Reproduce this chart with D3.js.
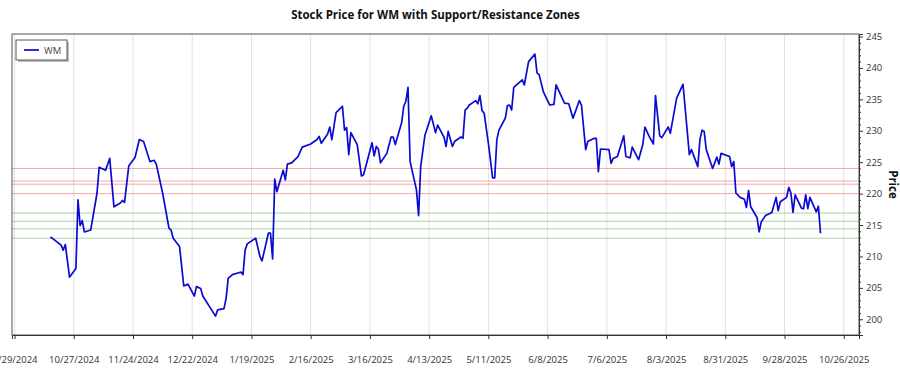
<!DOCTYPE html>
<html>
<head>
<meta charset="utf-8">
<script src="https://cdn.jsdelivr.net/npm/d3@7"></script>
<style>
  body { margin: 0; background: #fff; }
  text { font-family: "Open Sans", "Noto Sans", sans-serif; }
</style>
</head>
<body>
<div id="chart"></div>
<script>
const ticker = "WM";

const dates = [
  "2024-10-16","2024-10-18","2024-10-21","2024-10-22","2024-10-23","2024-10-25","2024-10-28","2024-10-29","2024-10-30","2024-10-31",
  "2024-11-01","2024-11-04","2024-11-07","2024-11-08","2024-11-11","2024-11-13","2024-11-15","2024-11-18","2024-11-19","2024-11-20",
  "2024-11-22","2024-11-25","2024-11-27","2024-11-29","2024-12-02","2024-12-04","2024-12-05","2024-12-08","2024-12-11","2024-12-12",
  "2024-12-13","2024-12-16","2024-12-18","2024-12-20","2024-12-23","2024-12-24","2024-12-26","2024-12-27","2025-01-02","2025-01-03",
  "2025-01-06","2025-01-07","2025-01-08","2025-01-10","2025-01-13","2025-01-14","2025-01-15","2025-01-16","2025-01-17","2025-01-21",
  "2025-01-23","2025-01-24","2025-01-27","2025-01-28","2025-01-29","2025-01-30","2025-01-31","2025-02-03","2025-02-04","2025-02-05",
  "2025-02-07","2025-02-10","2025-02-12","2025-02-16","2025-02-19","2025-02-20","2025-02-21","2025-02-24","2025-02-25","2025-02-26",
  "2025-02-28","2025-03-03","2025-03-04","2025-03-05","2025-03-06","2025-03-07","2025-03-10","2025-03-12","2025-03-13","2025-03-17",
  "2025-03-18","2025-03-19","2025-03-20","2025-03-21","2025-03-24","2025-03-26","2025-03-27","2025-03-28","2025-03-31","2025-04-01",
  "2025-04-02","2025-04-03","2025-04-04","2025-04-07","2025-04-08","2025-04-09","2025-04-11","2025-04-14","2025-04-16","2025-04-17",
  "2025-04-20","2025-04-21","2025-04-22","2025-04-24","2025-04-25","2025-04-28","2025-04-29","2025-04-30","2025-05-01","2025-05-02",
  "2025-05-05","2025-05-06","2025-05-07","2025-05-08","2025-05-09","2025-05-11","2025-05-13","2025-05-14","2025-05-15","2025-05-16",
  "2025-05-19","2025-05-20","2025-05-21","2025-05-22","2025-05-23","2025-05-27","2025-05-28","2025-05-30","2025-06-02","2025-06-03",
  "2025-06-04","2025-06-06","2025-06-09","2025-06-11","2025-06-12","2025-06-16","2025-06-18","2025-06-20","2025-06-23","2025-06-24",
  "2025-06-26","2025-06-27","2025-06-30","2025-07-01","2025-07-02","2025-07-03","2025-07-07","2025-07-08","2025-07-09","2025-07-11",
  "2025-07-14","2025-07-15","2025-07-17","2025-07-18","2025-07-21","2025-07-23","2025-07-24","2025-07-26","2025-07-28","2025-07-29",
  "2025-07-31","2025-08-01","2025-08-04","2025-08-05","2025-08-08","2025-08-11","2025-08-14","2025-08-15","2025-08-18","2025-08-19",
  "2025-08-20","2025-08-21","2025-08-22","2025-08-25","2025-08-27","2025-08-28","2025-08-29","2025-09-02","2025-09-03","2025-09-04",
  "2025-09-05","2025-09-07","2025-09-09","2025-09-10","2025-09-11","2025-09-12","2025-09-15","2025-09-16","2025-09-17","2025-09-19",
  "2025-09-22","2025-09-24","2025-09-25","2025-09-26","2025-09-29","2025-09-30","2025-10-01","2025-10-02","2025-10-03","2025-10-06",
  "2025-10-07","2025-10-08","2025-10-09","2025-10-10","2025-10-13","2025-10-14","2025-10-15"
];

const prices = [
  213.1,212.6,211.8,211.0,211.9,206.7,208.1,219.0,214.9,215.7,
  213.9,214.2,220.1,224.2,223.7,225.6,217.9,218.5,218.9,218.6,
  224.4,225.8,228.6,228.3,225.1,225.3,224.7,220.1,214.5,214.2,
  212.9,211.6,205.3,205.6,203.7,205.2,204.9,203.7,200.5,201.5,
  201.7,203.3,206.5,207.1,207.4,207.5,207.1,211.0,212.0,212.9,
  210.0,209.3,213.7,213.7,209.6,222.3,220.3,223.7,222.2,224.7,
  224.9,225.9,227.4,227.9,228.6,229.1,228.0,229.5,230.6,228.6,
  232.9,233.9,230.1,230.5,226.2,229.7,227.8,222.8,223.0,228.1,
  226.0,227.5,227.1,224.9,226.4,229.0,229.0,227.8,231.3,233.9,
  234.7,236.9,225.1,220.6,216.5,224.3,229.3,232.4,229.7,230.9,
  229.0,227.5,229.9,227.5,228.3,229.0,228.8,233.3,233.6,234.1,
  234.8,234.3,235.6,233.2,232.8,228.0,222.5,222.5,228.6,230.1,
  232.0,234.0,234.1,233.3,236.9,238.1,237.3,241.0,242.2,239.2,
  238.9,236.2,234.1,234.2,237.3,234.4,234.3,232.0,234.8,234.1,
  227.0,228.3,228.8,228.8,223.5,227.1,227.0,224.8,225.6,225.9,
  229.2,225.9,225.7,227.4,225.4,227.8,230.6,229.1,227.9,235.6,
  229.2,228.9,230.6,229.6,235.2,237.4,226.2,227.0,224.3,228.6,
  230.1,229.9,227.0,224.0,225.8,224.7,226.4,225.9,224.3,225.1,
  220.1,219.4,219.1,217.8,220.5,217.9,216.2,213.9,215.5,216.5,
  217.0,219.4,217.3,218.7,219.4,221.0,220.1,217.0,219.8,217.7,
  217.6,219.8,217.6,219.4,217.1,218.0,213.7
];

const resistanceLevels = [224.0, 222.0, 221.5, 220.0];
const supportLevels = [216.9, 215.6, 214.4, 212.9];

const xTickLabels = [
  "9/29/2024","10/27/2024","11/24/2024","12/22/2024","1/19/2025","2/16/2025","3/16/2025",
  "4/13/2025","5/11/2025","6/8/2025","7/6/2025","8/3/2025","8/31/2025","9/28/2025","10/26/2025"
];
const yTickValues = [200, 205, 210, 215, 220, 225, 230, 235, 240, 245];

const W = 900, H = 375;
const plot = { left: 12, right: 859, top: 34, bottom: 335 };

const parseIso = d3.utcParse("%Y-%m-%d");
const parseTick = d3.utcParse("%m/%d/%Y");
const data = dates.map((d, i) => ({ date: parseIso(d), price: prices[i] }));
const xTicks = xTickLabels.map(parseTick);

// 5% padding either side of the data span
const ext = d3.extent(data, d => d.date);
const pad = (ext[1] - ext[0]) * 0.05;
const x = d3.scaleUtc()
  .domain([new Date(+ext[0] - pad), new Date(+ext[1] + pad)])
  .range([plot.left, plot.right]);

const y = d3.scaleLinear()
  .domain([197.5, 245.4])
  .range([plot.bottom, plot.top]);

const svg = d3.select("#chart").append("svg")
  .attr("width", W)
  .attr("height", H);

svg.append("rect").attr("width", W).attr("height", H).attr("fill", "#fff");

// vertical grid
svg.append("g")
  .selectAll("line")
  .data(xTicks)
  .join("line")
    .attr("x1", d => x(d)).attr("x2", d => x(d))
    .attr("y1", plot.top).attr("y2", plot.bottom)
    .attr("stroke", "#e2e2e2")
    .attr("stroke-width", 1);

// support / resistance zones
svg.append("g")
  .selectAll("line")
  .data(resistanceLevels)
  .join("line")
    .attr("x1", plot.left).attr("x2", plot.right)
    .attr("y1", d => y(d)).attr("y2", d => y(d))
    .attr("stroke", "rgba(235,60,60,0.45)")
    .attr("stroke-width", 1);

svg.append("g")
  .selectAll("line")
  .data(supportLevels)
  .join("line")
    .attr("x1", plot.left).attr("x2", plot.right)
    .attr("y1", d => y(d)).attr("y2", d => y(d))
    .attr("stroke", "rgba(40,150,40,0.4)")
    .attr("stroke-width", 1);

// price line
const line = d3.line()
  .x(d => x(d.date))
  .y(d => y(d.price));

svg.append("path")
  .datum(data)
  .attr("fill", "none")
  .attr("stroke", "#0a0ad2")
  .attr("stroke-width", 1.7)
  .attr("stroke-linejoin", "round")
  .attr("d", line);

// plot frame
svg.append("rect")
  .attr("x", plot.left).attr("y", plot.top)
  .attr("width", plot.right - plot.left)
  .attr("height", plot.bottom - plot.top)
  .attr("fill", "none")
  .attr("stroke", "#555")
  .attr("stroke-width", 1);

// bottom axis
const xAxis = svg.append("g")
  .attr("transform", `translate(0,${plot.bottom})`)
  .call(d3.axisBottom(x)
    .tickValues(xTicks)
    .tickFormat(d3.utcFormat("%-m/%-d/%Y"))
    .tickSize(4)
    .tickPadding(17));
xAxis.select(".domain").attr("stroke", "#333");
xAxis.selectAll(".tick line").attr("stroke", "#333");
xAxis.selectAll("text")
  .attr("fill", "#333")
  .style("font-size", "9.5px");

// right axis with minor ticks
const yMinor = d3.range(198, 246, 1).filter(v => v % 5 !== 0);
svg.append("g")
  .attr("transform", `translate(${plot.right},0)`)
  .call(d3.axisRight(y).tickValues(yMinor).tickSize(2).tickFormat(""))
  .call(g => g.select(".domain").remove())
  .selectAll("line").attr("stroke", "#333");

const yAxis = svg.append("g")
  .attr("transform", `translate(${plot.right},0)`)
  .call(d3.axisRight(y)
    .tickValues(yTickValues)
    .tickSize(4)
    .tickPadding(3));
yAxis.select(".domain").attr("stroke", "#333");
yAxis.selectAll(".tick line").attr("stroke", "#333");
yAxis.selectAll("text")
  .attr("fill", "#333")
  .style("font-size", "9.5px");

// titles
svg.append("text")
  .attr("x", (plot.left + plot.right) / 2)
  .attr("y", 19)
  .attr("text-anchor", "middle")
  .style("font-size", "11.5px")
  .style("font-weight", "bold")
  .attr("fill", "#111")
  .text(`Stock Price for ${ticker} with Support/Resistance Zones`);

svg.append("text")
  .attr("transform", `translate(889,${(plot.top + plot.bottom) / 2}) rotate(90)`)
  .attr("text-anchor", "middle")
  .style("font-size", "11.5px")
  .style("font-weight", "bold")
  .attr("fill", "#111")
  .text("Price");

// legend
const legend = svg.append("g").attr("transform", "translate(16,40)");
legend.append("rect")
  .attr("x", 2).attr("y", 2)
  .attr("width", 51).attr("height", 20)
  .attr("fill", "#bbb");
legend.append("rect")
  .attr("width", 51).attr("height", 20)
  .attr("fill", "#fff")
  .attr("stroke", "#555");
legend.append("line")
  .attr("x1", 8).attr("x2", 23)
  .attr("y1", 10).attr("y2", 10)
  .attr("stroke", "#0a0ad2")
  .attr("stroke-width", 1.7);
legend.append("text")
  .attr("x", 28).attr("y", 13.5)
  .style("font-size", "9.5px")
  .attr("fill", "#444")
  .text(ticker);
</script>
</body>
</html>
